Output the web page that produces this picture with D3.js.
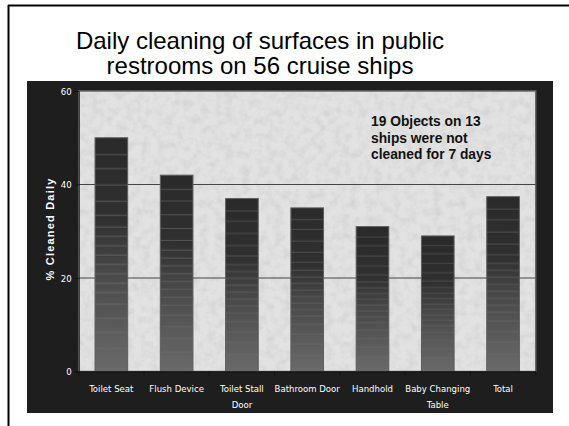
<!DOCTYPE html>
<html>
<head>
<meta charset="utf-8">
<script src="https://cdn.jsdelivr.net/npm/d3@7"></script>
<style>
  html, body { margin: 0; padding: 0; background: #fff; }
  svg { display: block; }
</style>
</head>
<body>
<script>
// ---- data ----
const categories = ["Toilet Seat", "Flush Device", "Toilet Stall Door", "Bathroom Door", "Handhold", "Baby Changing Table", "Total"];
const values = [50, 42, 37, 35, 31, 29, 37.4];
const tickLabelLines = [["Toilet Seat"], ["Flush Device"], ["Toilet Stall", "Door"], ["Bathroom Door"], ["Handhold"], ["Baby Changing", "Table"], ["Total"]];
const yTicks = [0, 20, 40, 60];
const titleLines = ["Daily cleaning of surfaces in public", "restrooms on 56 cruise ships"];
const yTitle = "% Cleaned Daily";
const noteLines = ["19 Objects on 13", "ships were not", "cleaned for 7 days"];

// ---- layout ----
const W = 569, H = 426;
const panel = { x: 27, y: 81, w: 526, h: 332 };
const plot = { l: 78.7, r: 535.7, t: 91, b: 371.5 };

const svg = d3.select("body").append("svg").attr("width", W).attr("height", H);
const defs = svg.append("defs");

// stone texture filter
const f = defs.append("filter").attr("id", "stone").attr("x", 0).attr("y", 0).attr("width", 1).attr("height", 1);
f.append("feTurbulence").attr("type", "fractalNoise").attr("baseFrequency", 0.12).attr("numOctaves", 4).attr("seed", 7).attr("result", "n");
f.append("feColorMatrix").attr("in", "n").attr("type", "matrix")
  .attr("values", "0 0 0 0 0.55  0 0 0 0 0.55  0 0 0 0 0.55  0 0 0 -0.9 0.55");

// bar gradient
const g = defs.append("linearGradient").attr("id", "barGrad").attr("x1", 0).attr("y1", 0).attr("x2", 0).attr("y2", 1);
g.append("stop").attr("offset", "0%").attr("stop-color", "#2a2a2a");
g.append("stop").attr("offset", "35%").attr("stop-color", "#303030");
g.append("stop").attr("offset", "55%").attr("stop-color", "#474747");
g.append("stop").attr("offset", "100%").attr("stop-color", "#6a6a6a");

// bar pattern (gradient + decorative stripes)
const pat = defs.append("pattern").attr("id", "barPat")
  .attr("patternUnits", "objectBoundingBox").attr("patternContentUnits", "objectBoundingBox")
  .attr("width", 1).attr("height", 1);
pat.append("rect").attr("width", 1).attr("height", 1).attr("fill", "url(#barGrad)");
const stripes = [0.07, 0.13, 0.2, 0.27, 0.33, 0.38, 0.42, 0.46, 0.5, 0.54, 0.58, 0.62, 0.66, 0.71, 0.77, 0.83, 0.9];
stripes.forEach(s => pat.append("rect").attr("x", 0).attr("y", s).attr("width", 1).attr("height", 0.004).attr("fill", "#6e6e6e").attr("opacity", 0.7));

// slide frame
svg.append("line").attr("x1", 8).attr("x2", W).attr("y1", 5.5).attr("y2", 5.5).attr("stroke", "#000").attr("stroke-width", 2);
svg.append("line").attr("x1", 8.5).attr("x2", 8.5).attr("y1", 5).attr("y2", H).attr("stroke", "#000").attr("stroke-width", 2);

// title
svg.append("text").attr("x", 260).attr("y", 49).attr("text-anchor", "middle")
  .attr("font-family", "Liberation Sans, Arial, sans-serif").attr("font-size", 24).attr("fill", "#000")
  .selectAll("tspan").data(titleLines).join("tspan")
  .attr("x", 260).attr("dy", (d, i) => i === 0 ? 0 : 25).text(d => d);

// dark panel
svg.append("rect").attr("x", panel.x).attr("y", panel.y).attr("width", panel.w).attr("height", panel.h).attr("fill", "#1e1e1e");

// plot background
svg.append("rect").attr("x", plot.l).attr("y", plot.t).attr("width", plot.r - plot.l).attr("height", plot.b - plot.t).attr("fill", "#e2e2e2");
svg.append("rect").attr("x", plot.l).attr("y", plot.t).attr("width", plot.r - plot.l).attr("height", plot.b - plot.t).attr("fill", "#fff").attr("filter", "url(#stone)");
svg.append("rect").attr("x", plot.l).attr("y", plot.t).attr("width", plot.r - plot.l).attr("height", plot.b - plot.t)
  .attr("fill", "none").attr("stroke", "#6a6a6a").attr("stroke-width", 1.5);

// scales
const x = d3.scaleBand().domain(categories).range([plot.l, plot.r]).paddingInner(0.5).paddingOuter(0.25);
const y = d3.scaleLinear().domain([0, 60]).range([plot.b, plot.t]);

// gridlines
svg.append("g").selectAll("line").data(yTicks.filter(t => t > 0 && t < 60)).join("line")
  .attr("x1", plot.l).attr("x2", plot.r).attr("y1", d => y(d)).attr("y2", d => y(d))
  .attr("stroke", "#454545").attr("stroke-width", 1.2);

// bars
svg.append("g").selectAll("rect").data(values).join("rect")
  .attr("x", (d, i) => x(categories[i])).attr("width", x.bandwidth())
  .attr("y", d => y(d)).attr("height", d => y(0) - y(d))
  .attr("fill", "url(#barPat)").attr("stroke", "#5e5e5e").attr("stroke-width", 1);

// y axis
const yAxis = svg.append("g").attr("transform", `translate(${plot.l},0)`)
  .call(d3.axisLeft(y).tickValues(yTicks).tickSize(4).tickPadding(3).tickFormat(d3.format("d")));
yAxis.select(".domain").attr("stroke", "#111");
yAxis.selectAll(".tick line").attr("stroke", "#111");
yAxis.selectAll("text").attr("fill", "#fff").attr("font-size", 9.5)
  .attr("font-family", "Liberation Sans Narrow, DejaVu Sans Condensed, Arial Narrow, sans-serif");

// x axis
const xAxis = svg.append("g").attr("transform", `translate(0,${plot.b})`)
  .call(d3.axisBottom(x).tickSize(0).tickFormat(""));
xAxis.select(".domain").attr("stroke", "#111").attr("stroke-width", 1.5);
// boundary ticks between categories
const gap = (x.step() - x.bandwidth()) / 2;
const bounds = categories.slice(1).map(c => x(c) - gap);
svg.append("g").selectAll("line").data([plot.l, ...bounds, plot.r]).join("line")
  .attr("x1", d => d).attr("x2", d => d).attr("y1", plot.b).attr("y2", plot.b + 4)
  .attr("stroke", "#111").attr("stroke-width", 1);

// x labels
const xl = svg.append("g").attr("font-family", "Liberation Sans Narrow, DejaVu Sans Condensed, Arial Narrow, sans-serif")
  .attr("font-size", 9.5).attr("fill", "#fff").attr("text-anchor", "middle");
tickLabelLines.forEach((lines, i) => {
  const cx = x(categories[i]) + x.bandwidth() / 2;
  const t = xl.append("text").attr("x", cx).attr("y", 392);
  lines.forEach((ln, j) => t.append("tspan").attr("x", cx).attr("dy", j === 0 ? 0 : 16).text(ln));
});

// y title
svg.append("text").attr("transform", "translate(54,229) rotate(-90)").attr("text-anchor", "middle")
  .attr("font-family", "Liberation Sans, Arial, sans-serif").attr("font-weight", "bold")
  .attr("font-size", 11).attr("letter-spacing", 1.2).attr("fill", "#fff").text(yTitle);

// annotation
svg.append("text").attr("font-family", "Liberation Sans, Arial, sans-serif").attr("font-weight", "bold")
  .attr("font-size", 13.8).attr("fill", "#111")
  .selectAll("tspan").data(noteLines).join("tspan")
  .attr("x", 371).attr("y", (d, i) => 126 + i * 16.5).text(d => d);
</script>
</body>
</html>
